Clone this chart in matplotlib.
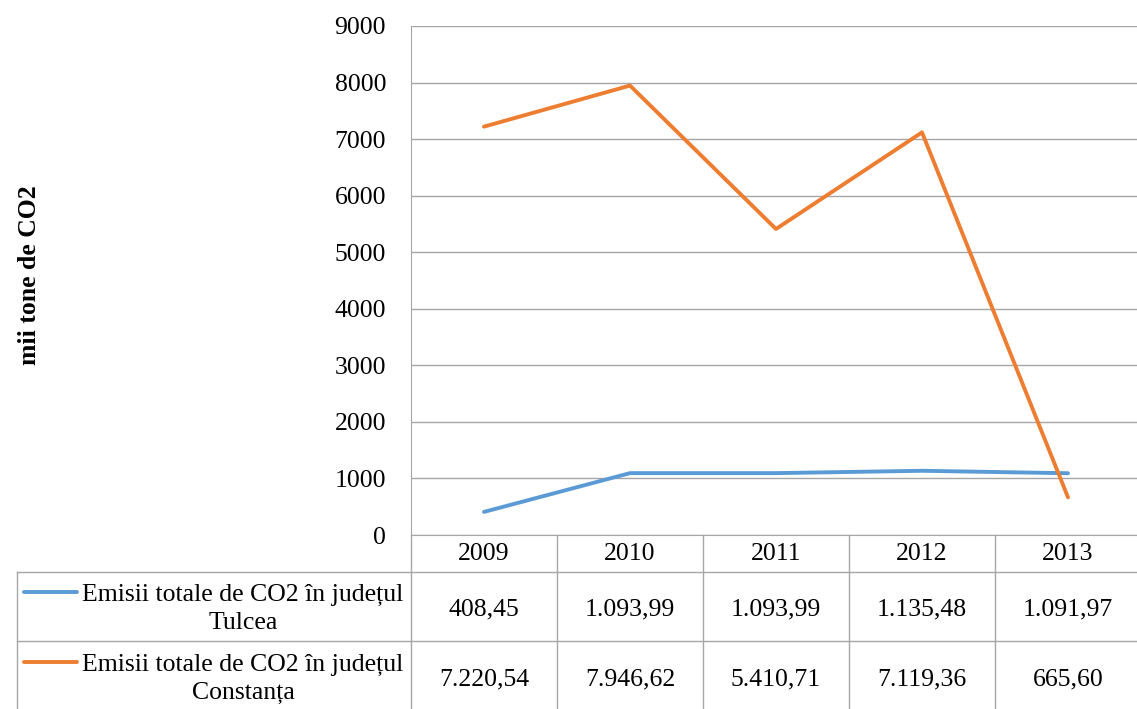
import matplotlib
matplotlib.use("Agg")
import matplotlib.pyplot as plt
import numpy as np

# date din grafic
ani = ["2009", "2010", "2011", "2012", "2013"]
tulcea = [408.45, 1093.99, 1093.99, 1135.48, 1091.97]
constanta = [7220.54, 7946.62, 5410.71, 7119.36, 665.60]
serii = ["Emisii totale de CO2 în județul\nTulcea",
         "Emisii totale de CO2 în județul\nConstanța"]
culori = ["#5B9BD5", "#ED7D31"]
yticks = [0, 1000, 2000, 3000, 4000, 5000, 6000, 7000, 8000, 9000]

W, H = 1137, 709
plt.rcParams['font.family'] = ['Liberation Serif', 'DejaVu Serif']
gri = "#A6A6A6"
fs = 18.5


def fmt_ro(v):
    s = f"{v:,.2f}"
    return s.replace(",", "X").replace(".", ",").replace("X", ".")


fig = plt.figure(figsize=(W / 100, H / 100), dpi=100)

# zona graficului (in pixeli)
left, right, top, bottom = 411, 1141, 26, 535
ax = fig.add_axes([left / W, (H - bottom) / H, (right - left) / W, (bottom - top) / H])
x = np.arange(len(ani))
for vals, c in zip([tulcea, constanta], culori):
    ax.plot(x, vals, color=c, lw=2.8, solid_capstyle='round', zorder=3)
ax.set_xlim(-0.5, len(ani) - 0.5)
ax.set_ylim(0, 9000)
ax.set_yticks(yticks)
ax.set_yticklabels([str(t) for t in yticks], fontsize=fs)
ax.tick_params(axis='y', length=0, pad=18)
ax.set_xticks([])
ax.grid(axis='y', color=gri, lw=1)
ax.set_axisbelow(True)
for s in ['top', 'right']:
    ax.spines[s].set_visible(False)
ax.spines['left'].set_color(gri)
ax.spines['bottom'].set_color(gri)

fig.text(30 / W, (H - 275) / H, "mii tone de CO2", rotation=90, ha='center', va='center',
         fontsize=fs, fontweight='bold')

# tabelul de date
tab = fig.add_axes([0, 0, 1, 1])
tab.set_xlim(0, W)
tab.set_ylim(H, 0)
tab.axis('off')
tab.patch.set_alpha(0)

def px(i):
    return ax.transData.transform((i, 0))[0]

bounds = [px(i - 0.5) for i in range(len(ani) + 1)]
rows = [535, 572, 641, 720]
tab_left = 17

for b in bounds:
    tab.plot([b, b], [rows[0], H], color=gri, lw=1)
tab.plot([tab_left, tab_left], [rows[1], H], color=gri, lw=1)
for r in rows[1:3]:
    tab.plot([tab_left, W], [r, r], color=gri, lw=1)

for i, a in enumerate(ani):
    tab.text(px(i), (rows[0] + rows[1]) / 2 + 1, a, ha='center', va='center', fontsize=fs)

for k, (vals, nume, c) in enumerate(zip([tulcea, constanta], serii, culori)):
    y0 = rows[k + 1]
    yc = y0 + 36 + k
    for i, v in enumerate(vals):
        tab.text(px(i), yc + 1, fmt_ro(v), ha='center', va='center', fontsize=fs)
    tab.text(243, yc + 1, nume, ha='center', va='center', fontsize=fs, linespacing=1.32)
    tab.plot([24, 77], [y0 + 20 + k, y0 + 20 + k], color=c, lw=2.8, solid_capstyle='round')

fig.savefig("out.png", dpi=100)
